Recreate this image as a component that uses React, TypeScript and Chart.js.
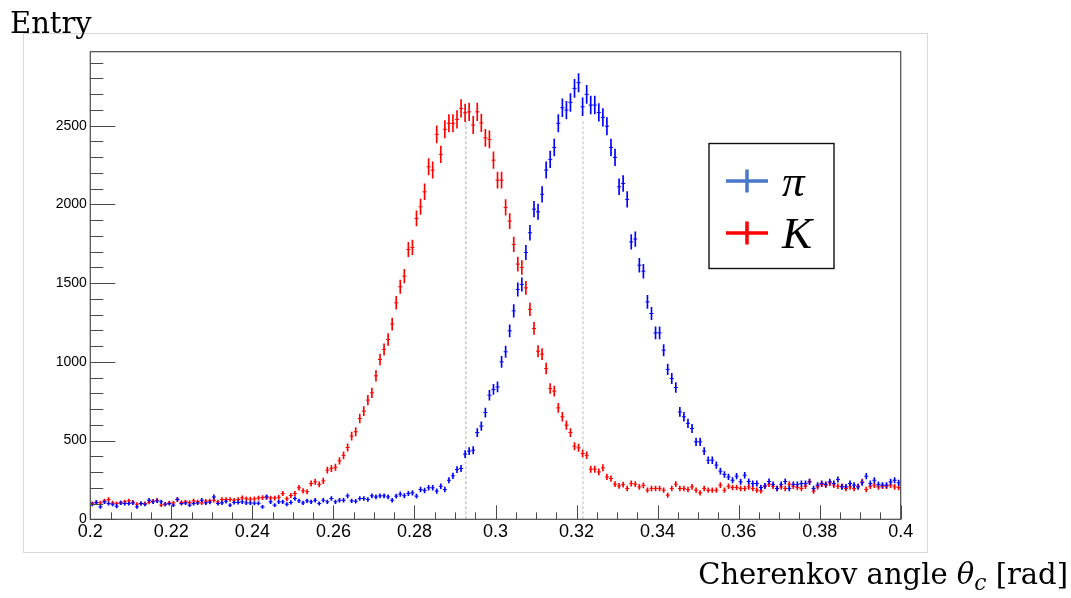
import React, { useEffect, useRef } from "react";
import { Chart, registerables } from "chart.js";

Chart.register(...registerables);

// ---- data ----
const BIN_START = 0.2;
const BIN_WIDTH = 0.001;

const PI_COUNTS = [
  96, 107, 79, 111, 100, 96, 83, 104, 100, 100,
  104, 79, 100, 96, 121, 111, 117, 111, 96, 100,
  90, 126, 100, 104, 90, 100, 104, 121, 104, 109,
  142, 100, 104, 115, 90, 107, 107, 111, 104, 104,
  102, 102, 79, 142, 111, 90, 111, 111, 96, 107,
  132, 117, 104, 117, 111, 121, 100, 121, 111, 132,
  111, 121, 121, 149, 117, 115, 132, 132, 126, 149,
  142, 149, 149, 142, 121, 147, 160, 150, 164, 168,
  147, 189, 183, 200, 200, 179, 210, 189, 248, 276,
  316, 323, 414, 433, 439, 551, 592, 678, 788, 825,
  841, 1000, 1064, 1197, 1324, 1460, 1492, 1695, 1820, 1970,
  1953, 2064, 2218, 2286, 2362, 2515, 2614, 2599, 2648, 2737,
  2773, 2620, 2699, 2631, 2631, 2584, 2553, 2497, 2362, 2299,
  2112, 2133, 2032, 1762, 1780, 1614, 1576, 1381, 1307, 1184,
  1184, 1074, 952, 894, 837, 682, 651, 609, 577, 492,
  492, 433, 375, 375, 344, 306, 285, 269, 248, 274,
  238, 280, 240, 227, 227, 202, 212, 240, 222, 196,
  222, 240, 196, 222, 222, 227, 227, 238, 196, 217,
  227, 222, 238, 227, 253, 206, 206, 227, 217, 206,
  232, 274, 227, 248, 222, 217, 217, 238, 248, 232,
];

const K_COUNTS = [
  100, 107, 104, 117, 126, 104, 100, 104, 111, 117,
  109, 96, 100, 100, 109, 115, 121, 90, 96, 104,
  104, 126, 107, 111, 107, 117, 111, 104, 115, 117,
  121, 111, 126, 126, 126, 121, 126, 136, 130, 128,
  130, 135, 138, 140, 135, 135, 140, 164, 130, 151,
  164, 200, 181, 175, 227, 238, 222, 244, 312, 323,
  330, 371, 406, 456, 528, 556, 640, 687, 757, 803,
  911, 1015, 1079, 1142, 1240, 1375, 1477, 1544, 1714, 1727,
  1911, 1985, 2080, 2239, 2218, 2445, 2318, 2477, 2515, 2515,
  2540, 2610, 2582, 2588, 2504, 2588, 2518, 2423, 2413, 2281,
  2154, 2154, 1981, 1894, 1746, 1621, 1600, 1470, 1333, 1212,
  1068, 1049, 958, 831, 814, 708, 651, 598, 551, 464,
  454, 418, 407, 318, 318, 301, 327, 269, 259, 223,
  212, 220, 196, 227, 223, 206, 216, 185, 196, 196,
  196, 185, 153, 196, 223, 196, 196, 189, 206, 185,
  168, 196, 185, 185, 185, 217, 185, 210, 202, 202,
  196, 196, 206, 196, 185, 180, 210, 223, 210, 196,
  206, 196, 223, 210, 202, 196, 210, 238, 179, 206,
  223, 217, 231, 217, 210, 210, 196, 206, 196, 210,
  238, 189, 210, 217, 206, 210, 210, 217, 206, 202,
];

const Y_TICK_VALUES = [0, 500, 1000, 1500, 2000, 2500];
const Y_TICK_LABELS = ["0", "500", "1000", "1500", "2000", "2500"];
const X_TICK_VALUES = [0.2, 0.22, 0.24, 0.26, 0.28, 0.3, 0.32, 0.34, 0.36, 0.38, 0.4];
const X_TICK_LABELS = ["0.2", "0.22", "0.24", "0.26", "0.28", "0.3", "0.32", "0.34", "0.36", "0.38", "0.4"];

const PEAK_K = 0.2927;
const PEAK_PI = 0.3216;
const PEAK_LINE_TOP = 2530;

const SERIES_NAMES = ["π", "K"];
const Y_TITLE = "Entry";
const X_TITLE_PARTS = [
  { text: "Cherenkov angle ", italic: false, sub: false },
  { text: "θ", italic: true, sub: false },
  { text: "c", italic: true, sub: true },
  { text: " [rad]", italic: false, sub: false },
];

const Y_MIN = 0;
const Y_MAX = 2970;
const X_MIN = 0.2;
const X_MAX = 0.4;

// ---- styles ----
const PI_COLOR = "#0000ff";
const K_COLOR = "#ff0000";
const PI_LEGEND_COLOR = "#4a78c8";
const K_LEGEND_COLOR = "#ff0000";
const SERIF = '"DejaVu Serif", "Liberation Serif", serif';
const SANS = '"Liberation Sans", Arial, Helvetica, sans-serif';

const binCenters = PI_COUNTS.map((_, i) => +(BIN_START + (i + 0.5) * BIN_WIDTH).toFixed(4));

const errorData = (counts: number[]) =>
  counts.map((v, i) => ({ x: binCenters[i], y: [v - Math.sqrt(v) * 1.1, v + Math.sqrt(v) * 1.1] }));
const pointData = (counts: number[]) => counts.map((v, i) => ({ x: binCenters[i], y: v }));

const rootPlugin = {
  id: "rootStyle",
  afterDraw(chart: any) {
    const ctx = chart.ctx as CanvasRenderingContext2D;
    const { left, right, top, bottom } = chart.chartArea;
    const xs = chart.scales.x;
    const ys = chart.scales.y;
    ctx.save();

    // outer image frame
    ctx.strokeStyle = "#d9d9d9";
    ctx.lineWidth = 1;
    ctx.strokeRect(23.5, 33.5, 904, 519);

    // plot frame
    ctx.strokeStyle = "#4a4a4a";
    ctx.lineWidth = 1.2;
    ctx.strokeRect(left, top, right - left, bottom - top);

    // y ticks (inside)
    ctx.strokeStyle = "#4a4a4a";
    ctx.lineWidth = 1;
    for (let v = 0; v <= Y_MAX; v += 100) {
      const y = Math.round(ys.getPixelForValue(v)) + 0.5;
      const len = v % 500 === 0 ? 25 : 13;
      ctx.beginPath();
      ctx.moveTo(left, y);
      ctx.lineTo(left + len, y);
      ctx.stroke();
    }
    // x ticks (inside)
    for (let k = 0; k <= 40; k++) {
      const v = X_MIN + k * 0.005;
      const x = Math.round(xs.getPixelForValue(v)) + 0.5;
      const len = k % 4 === 0 ? 14 : 7;
      ctx.beginPath();
      ctx.moveTo(x, bottom);
      ctx.lineTo(x, bottom - len);
      ctx.stroke();
    }

    // tick labels
    ctx.fillStyle = "#000";
    ctx.font = `14px ${SANS}`;
    ctx.textAlign = "right";
    ctx.textBaseline = "middle";
    Y_TICK_VALUES.forEach((v, i) => {
      ctx.fillText(Y_TICK_LABELS[i], left - 3.5, ys.getPixelForValue(v));
    });
    ctx.font = `18px ${SANS}`;
    ctx.textAlign = "center";
    ctx.textBaseline = "top";
    X_TICK_VALUES.forEach((v, i) => {
      ctx.fillText(X_TICK_LABELS[i], xs.getPixelForValue(v), bottom + 4);
    });

    // legend box
    ctx.fillStyle = "#fff";
    ctx.fillRect(709, 143.5, 125, 125);
    ctx.strokeStyle = "#111";
    ctx.lineWidth = 1.4;
    ctx.strokeRect(709, 143.5, 125, 125);
    const legendRows = [
      { y: 181, color: PI_LEGEND_COLOR, name: SERIES_NAMES[0] },
      { y: 233, color: K_LEGEND_COLOR, name: SERIES_NAMES[1] },
    ];
    legendRows.forEach((r) => {
      ctx.strokeStyle = r.color;
      ctx.lineWidth = 3.5;
      ctx.beginPath();
      ctx.moveTo(726, r.y);
      ctx.lineTo(768, r.y);
      ctx.moveTo(747, r.y - 11.5);
      ctx.lineTo(747, r.y + 11.5);
      ctx.stroke();
      ctx.fillStyle = "#000";
      ctx.font = `italic 45px "Liberation Serif", serif`;
      ctx.textAlign = "left";
      ctx.textBaseline = "alphabetic";
      ctx.fillText(r.name, 782, r.y + 15);
    });

    // axis titles
    ctx.fillStyle = "#000";
    ctx.textAlign = "left";
    ctx.textBaseline = "alphabetic";
    ctx.font = `29px ${SERIF}`;
    ctx.fillText(Y_TITLE, 10, 33);

    const base = 29;
    const widths = X_TITLE_PARTS.map((p) => {
      const size = p.sub ? base * 0.75 : base;
      ctx.font = `${p.italic ? "italic " : ""}${size}px ${SERIF}`;
      return ctx.measureText(p.text).width;
    });
    const total = widths.reduce((a, b) => a + b, 0);
    let x = 1068 - total;
    X_TITLE_PARTS.forEach((p, i) => {
      const size = p.sub ? base * 0.75 : base;
      ctx.font = `${p.italic ? "italic " : ""}${size}px ${SERIF}`;
      ctx.fillText(p.text, x, p.sub ? 590 : 584);
      x += widths[i];
    });

    ctx.restore();
  },
};

export default function App() {
  const canvasRef = useRef<HTMLCanvasElement | null>(null);

  useEffect(() => {
    const canvas = canvasRef.current;
    if (!canvas) return;
    const makeSeries = (counts: number[], color: string, label: string) => [
      {
        type: "bar" as const,
        label: label + " err",
        data: errorData(counts) as any,
        backgroundColor: color,
        borderWidth: 0,
        barThickness: 1,
        grouped: false,
        order: 2,
      },
      {
        type: "scatter" as const,
        label,
        data: pointData(counts) as any,
        pointStyle: "line",
        pointRadius: 2.03,
        pointBorderColor: color,
        pointBackgroundColor: color,
        pointBorderWidth: 1,
        showLine: false,
        order: 1,
      },
    ];
    const chart = new Chart(canvas, {
      type: "bar",
      data: {
        datasets: [
          {
            type: "line" as const,
            label: "K peak",
            data: [{ x: PEAK_K, y: 0 }, { x: PEAK_K, y: PEAK_LINE_TOP }] as any,
            borderColor: "#a9a9a9",
            borderWidth: 1,
            borderDash: [3, 2],
            pointRadius: 0,
            order: 5,
          },
          {
            type: "line" as const,
            label: "pi peak",
            data: [{ x: PEAK_PI, y: 0 }, { x: PEAK_PI, y: PEAK_LINE_TOP }] as any,
            borderColor: "#bdbdbd",
            borderWidth: 1,
            borderDash: [3, 2],
            pointRadius: 0,
            order: 5,
          },
          ...makeSeries(PI_COUNTS, PI_COLOR, "pi"),
          ...makeSeries(K_COUNTS, K_COLOR, "K"),
        ] as any,
      },
      options: {
        animation: false,
        responsive: false,
        events: [],
        layout: { padding: { left: 90.3, top: 51.7, right: 1071 - 900.7, bottom: 598 - 519.3 } },
        scales: {
          x: { type: "linear", min: X_MIN, max: X_MAX, display: false, offset: false },
          y: { type: "linear", min: Y_MIN, max: Y_MAX, display: false },
        },
        plugins: {
          legend: { display: false },
          tooltip: { enabled: false },
          title: { display: false },
        },
      },
      plugins: [rootPlugin],
    });
    return () => chart.destroy();
  }, []);

  return (
    <div style={{ position: "absolute", left: 0, top: 0, width: 1071, height: 598, background: "#fff" }}>
      <canvas ref={canvasRef} width={1071} height={598} style={{ display: "block" }} />
    </div>
  );
}
